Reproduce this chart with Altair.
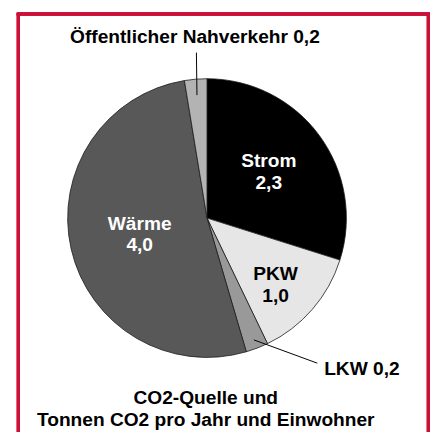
import math
import altair as alt
import pandas as pd

# ---- data ----
categories = ["Strom", "PKW", "LKW", "Wärme", "Öffentlicher Nahverkehr"]
values = [2.3, 1.0, 0.2, 4.0, 0.2]
value_labels = ["2,3", "1,0", "0,2", "4,0", "0,2"]
colors = ["#000000", "#e6e6e6", "#999999", "#585858", "#b3b3b3"]
title_lines = ["CO2-Quelle und", "Tonnen CO2 pro Jahr und Einwohner"]

# ---- layout / style ----
W, H = 430, 428
DX = 3.0
CX, CY, R = 199.8 + DX, 210.0, 142
FONT = "Liberation Sans"
FS = 19.5
LH = 21.7
CAP = 13.8
RED = "#cc1038"

total = sum(values)
starts, acc = [], 0.0
for v in values:
    starts.append(acc)
    acc += v
mid_deg = [(s + v / 2) / total * 360 for s, v in zip(starts, values)]


def pt(r, deg):
    a = math.radians(deg)
    return CX + r * math.sin(a), CY - r * math.cos(a)


pie_df = pd.DataFrame({
    "cat": categories,
    "value": values,
    "order": list(range(len(categories))),
})

# inner labels (radius, angle offset, text colour)
inner_style = {
    "Strom": (79, -1.0, "white"),
    "PKW": (97, 3.0, "black"),
    "Wärme": (70.5, -0.4, "white"),
}
rows = []
for i, c in enumerate(categories):
    if c in inner_style:
        r, off, col = inner_style[c]
        x, y = pt(r, mid_deg[i] + off)
        # block middle = (capTop1 + base2)/2 ; capTop1 = b1 - CAP, base2 = b1 + LH
        b1 = y - (LH - CAP) / 2
        rows.append({"x": x, "y": b1, "t": c, "col": col, "align": "center"})
        rows.append({"x": x, "y": b1 + LH, "t": value_labels[i], "col": col, "align": "center"})

# leader lines with outside labels: (r1, r2, end angle offset, text dx, text dy, align)
outer_style = {
    "LKW": (133, 185.7, -16.2, 7, 12.3, "left"),
    "Öffentlicher Nahverkehr": (125.7, 169, 1.0, -1.5, -10, "center"),
}
lines = []
for i, c in enumerate(categories):
    if c in outer_style:
        r1, r2, off, dx, dy, al = outer_style[c]
        x1, y1 = pt(r1, mid_deg[i])
        x2, y2 = pt(r2, mid_deg[i] + off)
        lines.append({"x": x1, "y": y1, "x2": x2, "y2": y2})
        rows.append({"x": x2 + dx, "y": y2 + dy, "t": f"{c} {value_labels[i]}", "col": "black", "align": al})

label_df = pd.DataFrame(rows)
line_df = pd.DataFrame(lines)

pie = alt.Chart(pie_df).mark_arc(outerRadius=R, stroke="#1a1a1a", strokeWidth=0.8).encode(
    theta=alt.Theta("value:Q", stack=True),
    order=alt.Order("order:Q", sort="ascending"),
    color=alt.Color("cat:N", scale=alt.Scale(domain=categories, range=colors), legend=None),
    x=alt.value(CX),
    y=alt.value(CY),
)

leaders = alt.Chart(line_df).mark_rule(color="black", strokeWidth=1).encode(
    x=alt.X("x:Q", scale=None),
    y=alt.Y("y:Q", scale=None),
    x2="x2:Q",
    y2="y2:Q",
)


def text_layer(df, align):
    return alt.Chart(df).mark_text(
        font=FONT, fontSize=FS, fontWeight="bold", align=align, baseline="alphabetic"
    ).encode(
        x=alt.X("x:Q", scale=None),
        y=alt.Y("y:Q", scale=None),
        text="t:N",
        color=alt.Color("col:N", scale=None),
    )


labels_c = text_layer(label_df[label_df["align"] == "center"], "center")
labels_l = text_layer(label_df[label_df["align"] == "left"], "left")

title_df = pd.DataFrame({"t": title_lines, "x": [198.5 + DX, 198.5 + DX], "y": [399.0, 421.5]})
title = alt.Chart(title_df).mark_text(
    font=FONT, fontSize=FS, fontWeight="bold", align="center", baseline="alphabetic", color="black"
).encode(
    x=alt.X("x:Q", scale=None),
    y=alt.Y("y:Q", scale=None),
    text="t:N",
)

b_left = alt.Chart(pie_df).mark_rule(color=RED, strokeWidth=3).encode(
    x=alt.value(7.5 + DX), y=alt.value(1.3), y2=alt.value(H))
b_right = alt.Chart(pie_df).mark_rule(color=RED, strokeWidth=3).encode(
    x=alt.value(428.3), y=alt.value(1.3), y2=alt.value(H))
b_top = alt.Chart(pie_df).mark_rule(color=RED, strokeWidth=3).encode(
    x=alt.value(6.0 + DX), x2=alt.value(429.8), y=alt.value(2.0))

chart = alt.layer(pie, leaders, labels_c, labels_l, title, b_left, b_right, b_top).properties(
    width=W, height=H, padding=0, autosize=alt.AutoSizeParams(type="none"),
    background="white",
).configure_view(stroke=None)

chart.save("out.html", embed_options={"renderer": "svg", "actions": False})
